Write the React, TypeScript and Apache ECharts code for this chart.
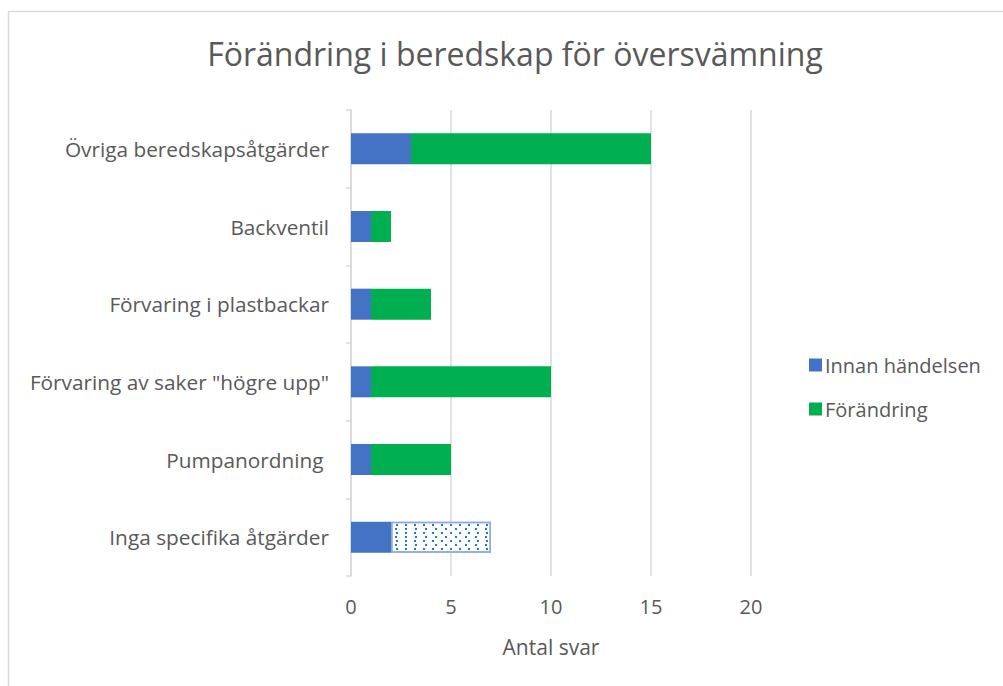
import React, { useEffect, useRef } from "react";
import * as echarts from "echarts";

const categories = [
  "Inga specifika åtgärder",
  "Pumpanordning ",
  "Förvaring av saker \"högre upp\"",
  "Förvaring i plastbackar",
  "Backventil",
  "Övriga beredskapsåtgärder",
];
const innan = [2, 1, 1, 1, 1, 3];
const forandring = [5, 4, 9, 3, 1, 12];
const xTicks = [0, 5, 10, 15, 20];

const FONT = "'Open Sans', 'Liberation Sans', sans-serif";
const TXT = "#595959";

export default function App() {
  const ref = useRef<HTMLDivElement>(null);
  useEffect(() => {
    document.body.style.margin = "0";
    const chart = echarts.init(ref.current!, null, { renderer: "svg" });
    chart.setOption({
      animation: false,
      backgroundColor: "#fff",
      textStyle: { fontFamily: FONT },
      title: {
        text: "Förändring i beredskap för översvämning",
        left: 510,
        textAlign: "center",
        top: 32,
        textStyle: { fontFamily: FONT, fontSize: 32, fontWeight: "normal", color: TXT },
      },
      legend: {
        orient: "vertical",
        left: 804,
        top: 350,
        itemWidth: 13,
        itemHeight: 13,
        itemGap: 24,
        textStyle: { fontFamily: FONT, fontSize: 20, color: TXT, padding: [0, 0, 0, -2] },
        data: [
          { name: "Innan händelsen", icon: "rect" },
          { name: "Förändring", icon: "rect" },
        ],
      },
      grid: { left: 351, width: 400, top: 110, height: 466, containLabel: false },
      xAxis: {
        type: "value",
        min: 0,
        max: 20,
        interval: 5,
        name: "Antal svar",
        nameLocation: "middle",
        nameGap: 60,
        nameTextStyle: { fontFamily: FONT, fontSize: 21, color: TXT },
        axisLine: { show: false },
        axisTick: { show: false },
        axisLabel: {
          fontFamily: FONT,
          fontSize: 20,
          color: TXT,
          margin: 20,
          formatter: (v: number) => (xTicks.includes(v) ? String(v) : ""),
        },
        splitLine: { lineStyle: { color: "#d9d9d9", width: 1.5 } },
      },
      yAxis: {
        type: "category",
        data: categories,
        axisLine: { show: true, lineStyle: { color: "#d9d9d9", width: 1.5 } },
        axisTick: { show: true, length: 5, lineStyle: { color: "#d9d9d9", width: 1.5 } },
        axisLabel: { fontFamily: FONT, fontSize: 20.8, color: TXT, margin: 22 },
      },
      series: [
        {
          name: "Innan händelsen",
          type: "bar",
          stack: "s",
          barWidth: 31,
          itemStyle: { color: "#4472c4" },
          data: innan,
        },
        {
          name: "Förändring",
          type: "bar",
          stack: "s",
          barWidth: 31,
          itemStyle: { color: "#00b050" },
          data: forandring.map((v, i) =>
            i === 0
              ? {
                  value: v,
                  itemStyle: {
                    color: "#ffffff",
                    borderColor: "#8faadc",
                    borderWidth: 1.5,
                    decal: {
                      symbol: "rect",
                      symbolSize: 1,
                      color: "#1f7ad1",
                      backgroundColor: "#ffffff",
                      dashArrayX: [
                        [2, 6.3],
                        [0, 4.15, 2, 2.15],
                      ],
                      dashArrayY: [2, 1.15],
                      rotation: 0,
                    },
                  },
                }
              : v
          ),
        },
      ],
      graphic: [
        {
          type: "rect",
          shape: { x: 8.5, y: 11.5, width: 1000, height: 680 },
          style: { fill: "none", stroke: "#d9d9d9", lineWidth: 1.5 },
          silent: true,
        },
      ],
    });
    return () => chart.dispose();
  }, []);
  return <div ref={ref} style={{ width: 1003, height: 686 }} />;
}
